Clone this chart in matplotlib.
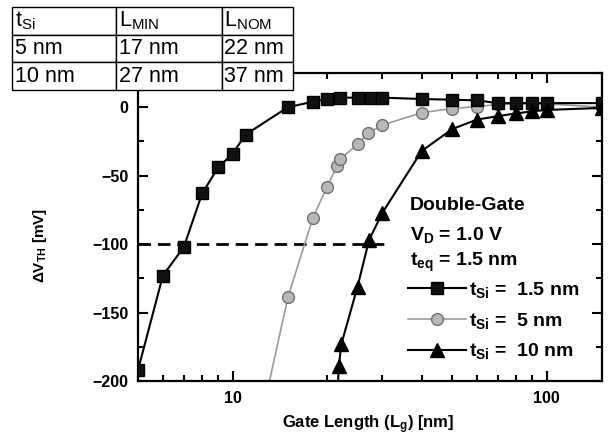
import matplotlib
matplotlib.use('Agg')
import matplotlib.pyplot as plt
from matplotlib.ticker import MultipleLocator, LogLocator, NullFormatter, FixedLocator

plt.rcParams['font.family'] = ['Liberation Sans', 'DejaVu Sans']

# t_Si = 1.5 nm (squares)
sq_x = [5, 6, 7, 8, 9, 10, 11, 15, 18, 20, 22, 25, 27.5, 30, 40, 50, 60, 70, 80, 90, 100, 150]
sq_y = [-192, -123, -102, -63, -44, -34, -20, 0, 4, 6, 7, 7, 7, 7, 6, 5.5, 5, 3, 3, 3, 3, 3]

# t_Si = 5 nm (circles)
ci_x = [12, 15, 18, 20, 21.5, 22, 25, 27, 30, 40, 50, 60, 70, 80, 90, 100, 150]
ci_y = [-240, -139, -81, -58, -43, -38, -27, -19, -13, -4, -1, 0.5, 2, 2.5, 2.5, 2.5, 0]

# t_Si = 10 nm (triangles)
tr_x = [21.5, 21.8, 22.2, 25, 27.2, 30, 40, 50, 60, 70, 80, 90, 100, 150]
tr_y = [-215, -189, -173, -131, -97, -77, -32, -16, -9, -6.5, -4.5, -3, -2, -0.5]

# table
table_cols = [r'$\mathregular{t_{Si}}$', r'$\mathregular{L_{MIN}}$', r'$\mathregular{L_{NOM}}$']
table_rows = [['5 nm', '17 nm', '22 nm'],
              ['10 nm', '27 nm', '37 nm']]

W, H = 608, 442
fig = plt.figure(figsize=(W / 100, H / 100), dpi=100)
ax = fig.add_axes([138 / W, 1 - 381 / H, 464 / W, 308 / H])

ax.plot(sq_x, sq_y, '-', color='black', lw=1.5, marker='s', ms=8.5,
        mfc='#111111', mec='black', label=r'$\mathregular{t_{Si}}$ =  1.5 nm', zorder=3)
ax.plot(ci_x, ci_y, '-', color='#9a9a9a', lw=1.2, marker='o', ms=8.5,
        mfc='#b8b8b8', mec='#707070', mew=1, label=r'$\mathregular{t_{Si}}$ =  5 nm', zorder=2)
ax.plot(tr_x, tr_y, '-', color='black', lw=1.5, marker='^', ms=10,
        mfc='black', mec='black', label=r'$\mathregular{t_{Si}}$ =  10 nm', zorder=4)

ax.hlines(-100, 5, 31.7, colors='black', lw=2, linestyles=(0, (4.5, 2.5)), zorder=1)

ax.set_xscale('log')
ax.set_xlim(5, 150)
ax.set_ylim(-200, 25)

ax.xaxis.set_major_locator(FixedLocator([10, 100]))
ax.xaxis.set_minor_locator(LogLocator(base=10, subs=range(2, 10)))
ax.xaxis.set_minor_formatter(NullFormatter())
ax.set_xticklabels(['10', '100'])
ax.yaxis.set_major_locator(MultipleLocator(50))
ax.yaxis.set_minor_locator(MultipleLocator(25))

ax.tick_params(which='both', direction='in', top=True, right=True, width=1.5)
ax.tick_params(which='major', length=7, labelsize=11.5, pad=7)
ax.tick_params(which='minor', length=4.5)
for lab in ax.get_xticklabels() + ax.get_yticklabels():
    lab.set_fontweight('bold')
for s in ax.spines.values():
    s.set_linewidth(1.6)

fig.text(368 / W, 1 - 425 / H, r'Gate Length ($\mathregular{L_g}$) [nm]',
         ha='center', va='center', fontsize=12, fontweight='bold')
fig.text(40 / W, 1 - 245 / H, r'$\mathregular{\Delta V_{TH}}$ [mV]', rotation=90,
         ha='center', va='center', fontsize=11, fontweight='bold')

fig.text(410 / W, 1 - 205 / H, 'Double-Gate', ha='left', va='center', fontsize=14, fontweight='bold')
fig.text(410 / W, 1 - 235 / H, r'$\mathregular{V_D}$ = 1.0 V', ha='left', va='center',
         fontsize=14, fontweight='bold')
fig.text(410 / W, 1 - 262 / H, r'$\mathregular{t_{eq}}$ = 1.5 nm', ha='left', va='center',
         fontsize=14, fontweight='bold')

leg = ax.legend(loc='upper left', bbox_to_anchor=(408 / W, 1 - 280 / H),
                bbox_transform=fig.transFigure, frameon=False, borderpad=0,
                borderaxespad=0, handlelength=3.0, handletextpad=0.15,
                labelspacing=0.55, prop={'size': 14, 'weight': 'bold'})

# table in the upper-left corner
tab_ax = fig.add_axes([12 / W, 1 - 90 / H, 281 / W, 83 / H])
tab_ax.axis('off')
tbl = tab_ax.table(cellText=[table_cols] + table_rows, cellLoc='left',
                   colWidths=[104, 106, 71], bbox=[0, 0, 1, 1])
tbl.auto_set_font_size(False)
tbl.set_fontsize(15.5)
for (r, c), cell in tbl.get_celld().items():
    cell.set_linewidth(1.0)
    cell.set_edgecolor('black')
    cell.set_facecolor('white')
    cell.PAD = 0.03

fig.savefig('out.png', dpi=100)
